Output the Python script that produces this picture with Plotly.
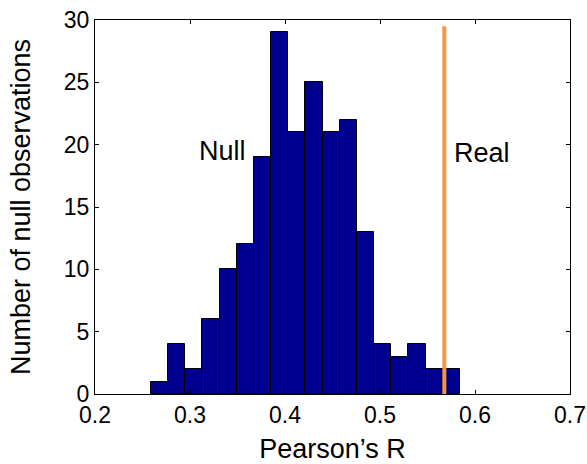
import plotly.graph_objects as go

# Histogram of null Pearson's R values
bin_start = 0.2589
bin_width = 0.01807
counts = [1, 4, 2, 6, 10, 12, 19, 29, 21, 25, 21, 22, 13, 4, 3, 4, 2, 2]
centers = [bin_start + bin_width * (i + 0.5) for i in range(len(counts))]

real_r = 0.5677
real_top = 29.5

x_ticks = [0.2, 0.3, 0.4, 0.5, 0.6, 0.7]
y_ticks = [0, 5, 10, 15, 20, 25, 30]

null_label = {"text": "Null", "x": 0.3347, "y": 19.5}
real_label = {"text": "Real", "x": 0.6074, "y": 19.3}

FONT = "Arial, Liberation Sans, sans-serif"

fig = go.Figure()
fig.add_trace(go.Bar(
    x=centers, y=counts, width=bin_width,
    marker=dict(color="#00008F", line=dict(color="black", width=1)),
    showlegend=False, hoverinfo="x+y",
))
fig.add_trace(go.Scatter(
    x=[real_r, real_r], y=[0, real_top], mode="lines",
    line=dict(color="#F79646", width=4), showlegend=False,
))

for lab in (null_label, real_label):
    fig.add_annotation(x=lab["x"], y=lab["y"], text=lab["text"], showarrow=False,
                       font=dict(family=FONT, size=27, color="black"),
                       xanchor="center", yanchor="middle")

axis_common = dict(
    showline=True, linecolor="black", linewidth=1, mirror="ticks",
    ticks="inside", ticklen=4, tickcolor="black", tickwidth=1,
    showgrid=False, zeroline=False, automargin=False,
    tickfont=dict(family=FONT, size=23, color="black"),
)

fig.update_layout(
    width=587, height=464,
    margin=dict(l=95, r=17, t=20, b=70),
    paper_bgcolor="white", plot_bgcolor="white",
    bargap=0,
    xaxis=dict(range=[0.2, 0.7], tickvals=x_ticks, ticktext=[f"{v:g}" for v in x_ticks],
               title=dict(text="Pearson\u2019s R", font=dict(family=FONT, size=27, color="black"), standoff=15),
               **axis_common),
    yaxis=dict(range=[0, 30], tickvals=y_ticks,
               title=dict(text="Number of null observations", font=dict(family=FONT, size=27, color="black"), standoff=25),
               **axis_common),
)

fig.write_html("out.html", config={"displayModeBar": False},
               post_script="document.body.style.margin='0';")
